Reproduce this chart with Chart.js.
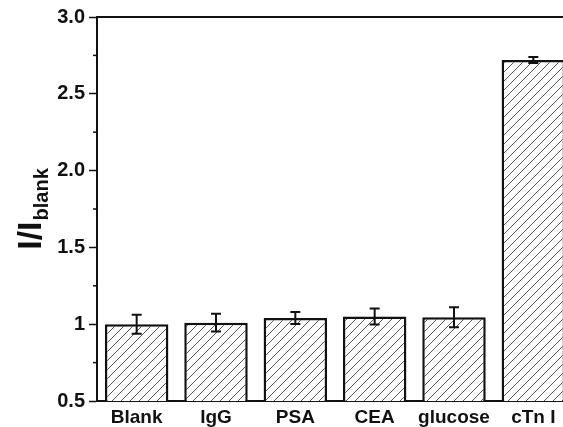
<!DOCTYPE html>
<html lang="en">
<head>
    <meta charset="UTF-8">
    <title>Selectivity</title>
    <script src="https://cdn.jsdelivr.net/npm/chart.js"></script>
    <style>
        html, body { margin: 0; padding: 0; overflow: hidden; background: #fff; }
        #selChart { display: block; }
    </style>
</head>
<body>
    <canvas id="selChart" width="580" height="427"></canvas>

    <script>
        const categories = ['Blank', 'IgG', 'PSA', 'CEA', 'glucose', 'cTn I'];
        const ratios = [1.00, 1.01, 1.04, 1.05, 1.045, 2.72];
        const errors = [0.062, 0.058, 0.039, 0.052, 0.065, 0.02];
        const yTicks = [0.5, 1, 1.5, 2, 2.5, 3];
        const yTickLabels = ['0.5', '1', '1.5', '2.0', '2.5', '3.0'];
        const minorTicks = [0.75, 1.25, 1.75, 2.25, 2.75];

        const FONT = '"Liberation Sans", Arial, sans-serif';
        const INK = '#111';

        // diagonal hatch fill
        function makeHatch() {
            const c = document.createElement('canvas');
            c.width = 9; c.height = 9;
            const g = c.getContext('2d');
            g.fillStyle = '#fff';
            g.fillRect(0, 0, 9, 9);
            g.strokeStyle = '#555';
            g.lineWidth = 1;
            g.beginPath();
            g.moveTo(0, 9); g.lineTo(9, 0);
            g.moveTo(-1, 1); g.lineTo(1, -1);
            g.moveTo(8, 10); g.lineTo(10, 8);
            g.stroke();
            return g.createPattern(c, 'repeat');
        }

        const extras = {
            id: 'extras',
            afterDatasetsDraw(chart) {
                const ctx = chart.ctx;
                const y = chart.scales.y;
                const area = chart.chartArea;
                ctx.save();
                ctx.strokeStyle = INK;

                // top frame line
                ctx.lineWidth = 2;
                ctx.beginPath();
                ctx.moveTo(area.left, area.top);
                ctx.lineTo(chart.width, area.top);
                ctx.stroke();

                // minor ticks
                ctx.lineWidth = 1.5;
                minorTicks.forEach(v => {
                    const py = y.getPixelForValue(v);
                    ctx.beginPath();
                    ctx.moveTo(area.left - 4, py);
                    ctx.lineTo(area.left, py);
                    ctx.stroke();
                });

                // error bars
                const meta = chart.getDatasetMeta(0);
                ctx.lineWidth = 2;
                meta.data.forEach((bar, i) => {
                    const hi = y.getPixelForValue(ratios[i] + errors[i]);
                    const lo = y.getPixelForValue(ratios[i] - errors[i]);
                    const x = bar.x;
                    ctx.beginPath();
                    ctx.moveTo(x, hi); ctx.lineTo(x, lo);
                    ctx.moveTo(x - 5, hi); ctx.lineTo(x + 5, hi);
                    ctx.moveTo(x - 5, lo); ctx.lineTo(x + 5, lo);
                    ctx.stroke();
                });

                // y axis title I/I_blank
                ctx.fillStyle = INK;
                ctx.textBaseline = 'alphabetic';
                ctx.font = 'bold 34px ' + FONT;
                const main = 'I/I';
                const w1 = ctx.measureText(main).width;
                ctx.font = 'bold 20px ' + FONT;
                const sub = 'blank';
                const w2 = ctx.measureText(sub).width;
                const mid = (area.top + area.bottom) / 2;
                ctx.translate(41, mid);
                ctx.rotate(-Math.PI / 2);
                const start = -(w1 + w2 + 1) / 2;
                ctx.font = 'bold 34px ' + FONT;
                ctx.fillText(main, start, 0);
                ctx.font = 'bold 20px ' + FONT;
                ctx.fillText(sub, start + w1 + 1, 7);
                ctx.restore();
            }
        };

        const ctx = document.getElementById('selChart').getContext('2d');
        const chart = new Chart(ctx, {
            type: 'bar',
            data: {
                labels: categories,
                datasets: [{
                    data: ratios,
                    backgroundColor: makeHatch(),
                    borderColor: INK,
                    borderWidth: 2.5,
                    barPercentage: 0.8,
                    categoryPercentage: 1.0
                }]
            },
            options: {
                responsive: false,
                animation: false,
                layout: { padding: { top: 17, right: 7, left: 0, bottom: 0 } },
                plugins: {
                    legend: { display: false },
                    tooltip: { enabled: false }
                },
                scales: {
                    x: {
                        grid: { display: false },
                        border: { display: true, color: INK, width: 2 },
                        ticks: {
                            color: INK,
                            padding: -3,
                            font: { family: FONT, size: 19, weight: 'bold' }
                        },
                        afterFit: s => { s.height = 26; }
                    },
                    y: {
                        min: 0.5,
                        max: 3.0,
                        afterBuildTicks: s => { s.ticks = yTicks.map(v => ({ value: v })); },
                        grid: {
                            drawOnChartArea: false,
                            tickLength: 8,
                            tickColor: INK,
                            tickWidth: 1.5
                        },
                        border: { display: true, color: INK, width: 2 },
                        ticks: {
                            color: INK,
                            padding: 4,
                            font: { family: FONT, size: 20, weight: 'bold' },
                            callback: v => yTickLabels[yTicks.indexOf(v)]
                        },
                        afterFit: s => { s.width = 97; }
                    }
                }
            },
            plugins: [extras]
        });
    </script>
</body>
</html>
